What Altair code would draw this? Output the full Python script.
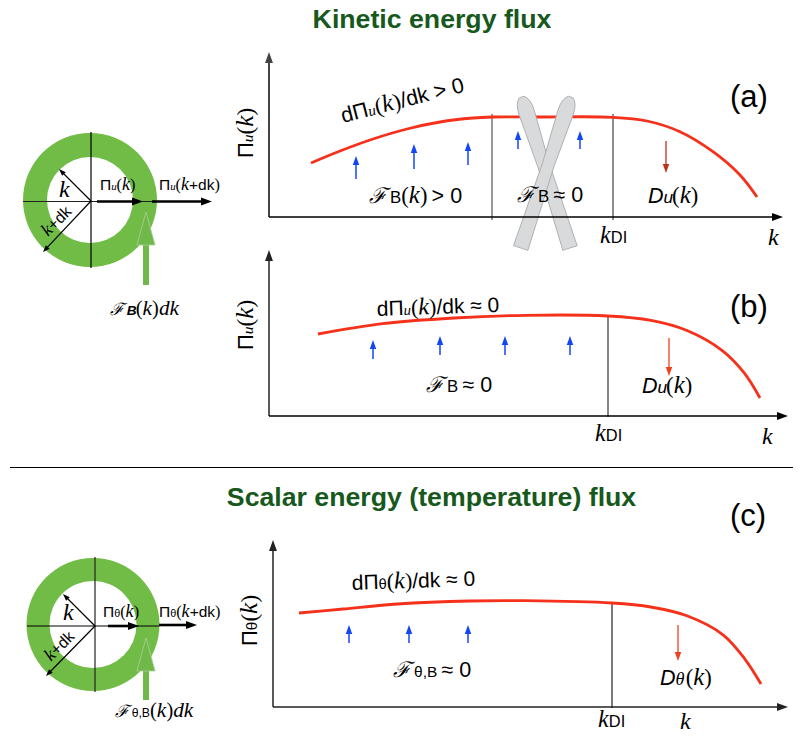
import math
import altair as alt
import pandas as pd

# ---------- curves (k, flux) ----------
curve_a_x = [311, 340, 373, 407, 440, 473, 492, 540, 613, 647, 680, 713, 740, 757]
curve_a_y = [163, 151, 139, 129, 122, 118, 117, 117, 117.3, 121, 131.7, 151.7, 175, 197]
curve_b_x = [318, 382.5, 454, 525.7, 608, 651, 687, 722.6, 744, 760]
curve_b_y = [334, 323.7, 318, 315.3, 316, 320.4, 330.5, 350.8, 372.7, 398]
curve_c_x = [299, 343, 397.5, 470, 524, 612, 650.7, 686.9, 723, 744.7, 761]
curve_c_y = [613, 609, 604, 601, 600.7, 603, 607, 615.8, 634.8, 658.8, 684]

# ---------- rings: cx, cy, diameter, colour ----------
ring_cx = [90, 90, 93, 93]
ring_cy = [200, 200, 624.5, 624.5]
ring_d = [134, 86, 133, 87]
ring_col = ["#71BC47", "#ffffff", "#71BC47", "#ffffff"]

# ---------- plain lines: x1, y1, x2, y2, width, colour ----------
lines = [
    (10, 467.5, 801, 467.5, 1.1, "#000000"),
    (91, 132, 91, 268, 1.2, "#000000"),
    (23, 201.5, 156, 201.5, 1.2, "#222222"),
    (95, 557, 95, 692, 1.2, "#222222"),
    (27, 626, 159, 626, 1.2, "#000000"),
    (492, 114, 492, 220, 1.2, "#555555"),
    (613, 114, 613, 220, 1.2, "#444444"),
    (608, 316, 608, 417, 1.2, "#333333"),
    (612, 602, 612, 708, 1.2, "#222222"),
]

# ---------- arrows: x1, y1, x2, y2, width, head, colour ----------
BLUE = "#1346F5"
arrows = [
    (269, 217, 269, 52, 2, 11, "#444444"),
    (269, 217, 783, 217, 1.3, 11, "#000000"),
    (269, 416, 269, 250, 1.5, 11, "#222222"),
    (269, 416, 788, 416, 1.3, 11, "#000000"),
    (273, 707, 273, 540, 1.5, 11, "#222222"),
    (273, 707, 788, 707, 1.6, 11, "#222222"),
    (356, 179, 356, 156, 1.5, 9, BLUE),
    (414, 169, 414, 144, 1.5, 9, BLUE),
    (468, 165, 468, 142, 1.5, 9, BLUE),
    (518, 149, 518, 131, 1.5, 9, BLUE),
    (580, 149, 580, 131, 1.5, 9, BLUE),
    (666, 141, 666, 173, 1.3, 9, "#C0301A"),
    (373, 359, 373, 340, 1.5, 9, BLUE),
    (440, 355, 440, 336, 1.5, 9, BLUE),
    (505, 355, 505, 336, 1.5, 9, BLUE),
    (570, 355, 570, 336, 1.5, 9, BLUE),
    (669, 338, 669, 376, 1.3, 9, "#F0401E"),
    (349, 643, 349, 625, 1.5, 9, BLUE),
    (409, 643, 409, 625, 1.5, 9, BLUE),
    (468, 643, 468, 625, 1.5, 9, BLUE),
    (678, 625, 678, 661, 1.3, 9, "#F0401E"),
    (97, 201.5, 143, 201.5, 2.6, 11, "#000000"),
    (152, 201.5, 212, 201.5, 2.6, 11, "#000000"),
    (91, 201, 59, 169, 1.2, 7, "#000000"),
    (91, 201, 43, 252, 1.2, 7, "#000000"),
    (108, 626, 139, 626, 2.6, 11, "#000000"),
    (159, 625, 197, 625, 2.6, 11, "#000000"),
    (95, 626, 63, 594, 1.2, 7, "#000000"),
    (95, 626, 46, 676, 1.2, 7, "#000000"),
    (146, 285, 146, 212, 6, 18, "#71B84A"),
    (146, 700, 146, 638, 6, 18, "#71B84A"),
]

# ---------- skis: x1, y1 (tip), x2, y2 (tail) ----------
skis = [(521.7, 97, 570, 248), (570.7, 97, 520.7, 248)]

# ---------- text helpers ----------
S, M, R, F, T, I = "S", "M", "R", "F", "T", "I"
FONTS = {
    S: ("Liberation Sans", "normal", "normal"),
    M: ("Liberation Serif", "italic", "normal"),
    R: ("Liberation Serif", "normal", "normal"),
    F: ("DejaVu Serif", "italic", "normal"),
    T: ("Liberation Sans", "italic", "bold"),
    I: ("Liberation Sans", "italic", "normal"),
}
W = {"Π": .72, "d": .556, "k": .5, ">": .584, "≈": .549, "0": .556, "B": .667, "+": .584,
     "(": .333, ")": .333, "/": .278, " ": .278, "u": .5, "θ": .556, "D": .722, "ℱ": .98,
     ",": .278, "I": .278, "a": .556, "b": .556, "c": .5}


def w(tok):
    return sum(W.get(c, .5) for c in tok)


text_rows = []


def seq(x, y, fs, tokens, angle=0):
    rad = math.radians(angle)
    for tok, st, scale in tokens:
        size = fs * scale
        if tok.strip():
            text_rows.append(dict(x=x, y=y, t=tok, st=st, fs=size, a=angle % 360))
        adv = w(tok) * size * (1.0 if st != M or tok != "k" else 0.9)
        x += adv * math.cos(rad)
        y += adv * math.sin(rad)


def PI(sub, arg):
    return [("Π", S, 1), (sub, S if sub == "θ" else M, .7), ("(", R, 1.05)] + arg + [(")", R, 1.05)]


K = [("k", M, 1.15)]
KDK = [("k", M, 1.15), ("+dk", S, 1)]
FB = [("ℱ", F, 1), ("B", S, .78)]
FTB = [("ℱ", F, 1), ("θ,B", S, .72)]
ARG = [("(", R, 1.05), ("k", M, 1.15), (")", R, 1.05)]
GAP = (" ", S, .7)

seq(730, 107, 31, [("(a)", S, 1)])
seq(730, 317, 31, [("(b)", S, 1)])
seq(730, 526, 31, [("(c)", S, 1)])

seq(253, 158, 22, PI("u", K), -90)
seq(253, 350, 22, PI("u", K), -90)
seq(257, 646, 22, PI("θ", K), -90)

seq(343, 123, 21.5, [("d", S, 1)] + PI("u", K) + [("/dk > 0", S, 1)], -14.5)
seq(377, 316, 21, [("d", S, 1)] + PI("u", K) + [("/dk ≈ 0", S, 1)], -2)
seq(352, 590, 21, [("d", S, 1)] + PI("θ", K) + [("/dk ≈ 0", S, 1)], -2)

seq(369, 203, 21.5, FB + ARG + [GAP, ("> 0", S, 1)])
seq(517, 202, 21.5, FB + [GAP, ("≈ 0", S, 1)])
seq(426, 392, 21.5, FB + [GAP, ("≈ 0", S, 1)])
seq(393, 677, 21.5, FTB + [GAP, ("≈ 0", S, 1)])

seq(648, 203, 21.5, [("D", I, 1), ("u", I, .8)] + ARG)
seq(642, 393, 21.5, [("D", I, 1), ("u", I, .8)] + ARG)
seq(660, 685, 21.5, [("D", I, 1), ("θ", M, .85)] + ARG)

for kx, ky, lx, ly in [(600, 243, 768, 245), (595, 441, 762, 444), (598, 727, 680, 729)]:
    seq(kx, ky, 21, [("k", M, 1.15), ("DI", S, .78)])
    seq(lx, ly, 24, [("k", M, 1)])

seq(100, 190, 15.5, PI("u", K))
seq(159, 190, 15.5, PI("u", KDK))
seq(103, 617, 15.5, PI("θ", K))
seq(159, 617, 15.5, PI("θ", KDK))
seq(59, 197, 24, [("k", M, 1)])
seq(63, 620, 24, [("k", M, 1)])
seq(48, 237, 16, [("k", M, 1.15), ("+dk", S, 1)], -45)
seq(51, 662, 16, [("k", M, 1.15), ("+dk", S, 1)], -45)
seq(110, 315, 17, [("ℱ", F, 1), ("B", T, .8), ("(", R, 1.2), ("k", M, 1.25), (")", R, 1.2), ("dk", M, 1.25)])
seq(115, 717, 17, [("ℱ", F, 1), ("θ,B", S, .72), ("(", R, 1.2), ("k", M, 1.25), (")", R, 1.2), ("dk", M, 1.25)])

titles = [("Kinetic energy flux", 432, 27.5), ("Scalar energy (temperature) flux", 431.5, 506)]

# ---------- scales ----------
XS = alt.Scale(domain=[8, 793], range=[0, 785], nice=False, zero=False)
YS = alt.Scale(domain=[8, 740], range=[0, 732], nice=False, zero=False)
X = alt.X("x:Q", scale=XS, axis=None)
Y = alt.Y("y:Q", scale=YS, axis=None)
HEAD = "M-0.72,1L0,-1L0.72,1Z"
SKI = ("M-0.095,1L0.095,1L0.075,-0.1L0.1,-0.8Q0.1,-0.95,0.03,-1L-0.03,-1"
       "Q-0.1,-0.95,-0.1,-0.8L-0.075,-0.1Z")

layers = []

# rings
rings = pd.DataFrame(dict(x=ring_cx, y=ring_cy, s=[d * d for d in ring_d], c=ring_col))
layers.append(alt.Chart(rings).mark_point(filled=True, shape="circle", opacity=1, strokeWidth=0).encode(
    x=X, y=Y, size=alt.Size("s:Q", scale=None), fill=alt.Fill("c:N", scale=None)))

# plain lines
ldf = pd.DataFrame(lines, columns=["x", "y", "x2", "y2", "w", "c"])
layers.append(alt.Chart(ldf).mark_rule().encode(
    x=X, y=Y, x2="x2:Q", y2="y2:Q",
    strokeWidth=alt.StrokeWidth("w:Q", scale=None), color=alt.Color("c:N", scale=None)))

# red curves
for cx, cy in [(curve_a_x, curve_a_y), (curve_b_x, curve_b_y), (curve_c_x, curve_c_y)]:
    d = pd.DataFrame(dict(x=cx, y=cy))
    layers.append(alt.Chart(d).mark_line(color="#F5311B", strokeWidth=2.8, interpolate="catmull-rom").encode(
        x=X, y=alt.Y("y:Q", scale=YS, axis=None, sort=None), order="x:Q"))

# skis
for x1, y1, x2, y2 in skis:
    L = math.hypot(x2 - x1, y2 - y1)
    ang = math.degrees(math.atan2(x1 - x2, y2 - y1)) % 360
    row = dict(x=(x1 + x2) / 2, y=(y1 + y2) / 2, s=L * L, a=ang)
    layers.append(alt.Chart(pd.DataFrame([row])).mark_point(
        shape=SKI, filled=True, fill="#D9DADB", stroke="#A8A8A8", strokeWidth=0.8, opacity=1).encode(
        x=X, y=Y, size=alt.Size("s:Q", scale=None), angle=alt.Angle("a:Q", scale=None)))

# arrows
shafts, heads = [], []
for x1, y1, x2, y2, lw, h, c in arrows:
    L = math.hypot(x2 - x1, y2 - y1)
    ux, uy = (x2 - x1) / L, (y2 - y1) / L
    big = lw >= 6
    hl = 33 if big else h
    shafts.append(dict(x=x1, y=y1, x2=x2 - ux * hl * .8, y2=y2 - uy * hl * .8, w=lw, c=c))
    heads.append(dict(x=x2 - ux * hl / 2, y=y2 - uy * hl / 2, s=hl * hl,
                      a=math.degrees(math.atan2(ux, -uy)) % 360, c=c, big=big))
sdf = pd.DataFrame(shafts)
layers.append(alt.Chart(sdf).mark_rule().encode(
    x=X, y=Y, x2="x2:Q", y2="y2:Q",
    strokeWidth=alt.StrokeWidth("w:Q", scale=None), color=alt.Color("c:N", scale=None)))
hdf = pd.DataFrame(heads)
layers.append(alt.Chart(hdf[~hdf.big]).mark_point(shape=HEAD, filled=True, opacity=1, strokeWidth=0).encode(
    x=X, y=Y, size=alt.Size("s:Q", scale=None), angle=alt.Angle("a:Q", scale=None),
    fill=alt.Fill("c:N", scale=None)))
layers.append(alt.Chart(hdf[hdf.big]).mark_point(
    shape="M-0.55,1L0,-1L0.55,1Z", filled=True, opacity=1, stroke="#A9CF95", strokeWidth=0.8).encode(
    x=X, y=Y, size=alt.Size("s:Q", scale=None), angle=alt.Angle("a:Q", scale=None),
    fill=alt.Fill("c:N", scale=None)))

# text
tdf = pd.DataFrame(text_rows)
for st, (font, style, weight) in FONTS.items():
    sub = tdf[tdf.st == st]
    if len(sub) == 0:
        continue
    layers.append(alt.Chart(sub).mark_text(
        font=font, fontStyle=style, fontWeight=weight, align="left", baseline="alphabetic", color="#000000"
    ).encode(x=X, y=Y, text="t:N", size=alt.Size("fs:Q", scale=None), angle=alt.Angle("a:Q", scale=None)))

tit = pd.DataFrame(titles, columns=["t", "x", "y"])
layers.append(alt.Chart(tit).mark_text(
    font="Liberation Sans", fontWeight="bold", fontSize=26.7, align="center", baseline="alphabetic", color="#17591C"
).encode(x=X, y=Y, text="t:N"))

chart = alt.layer(*layers).properties(
    width=785, height=732, padding=0, autosize=alt.AutoSizeParams(type="none"), background="#ffffff"
).configure_view(stroke=None)

chart.save("out.html", embed_options={"renderer": "svg", "actions": False})
